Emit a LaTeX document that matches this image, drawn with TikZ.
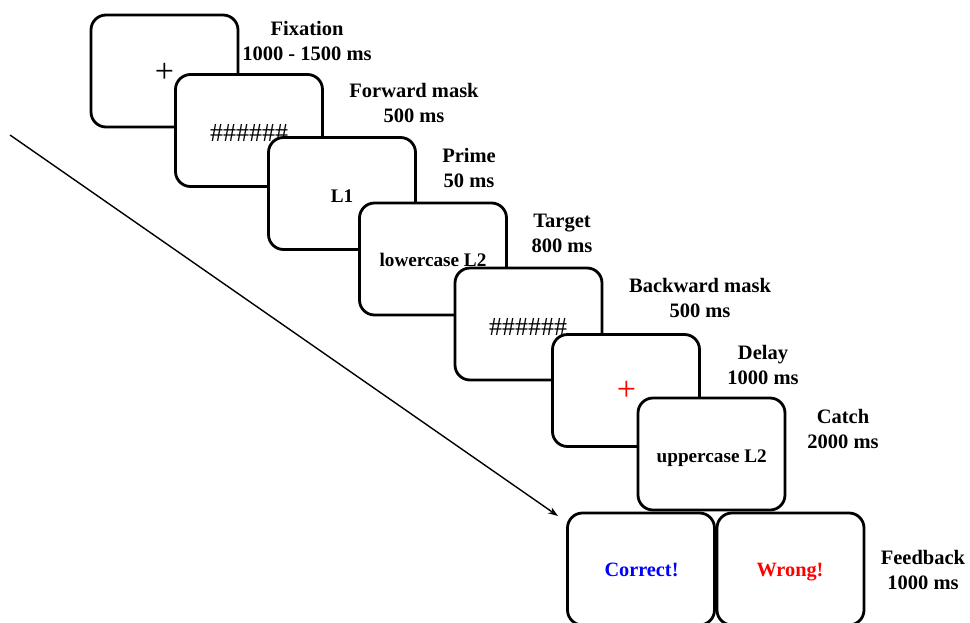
\documentclass[tikz,border=0pt]{standalone}
\usepackage{fontspec}
\setmainfont{Liberation Serif}
\usetikzlibrary{arrows.meta}
\begin{document}
\begin{tikzpicture}[x=1pt,y=-1pt,
  screen/.style={draw, line width=2.8pt, fill=white, rounded corners=15pt,
    minimum width=147pt, minimum height=112pt, inner sep=0pt},
  lab/.style={align=center, font=\fontsize{20.5}{25}\selectfont\bfseries, inner sep=0pt},
  txt/.style={anchor=base, inner sep=0pt},
  word/.style={txt, font=\fontsize{19.2}{22}\selectfont\bfseries},
  hash/.style={txt, font=\fontsize{26}{28}\selectfont},
  cross/.style={txt, font=\fontsize{34}{36}\selectfont},
  fb/.style={txt, font=\fontsize{20.3}{24}\selectfont\bfseries}]
\useasboundingbox (0,0) rectangle (970,622);
\clip (0,0) rectangle (970,622);
\fill[white] (0,0) rectangle (970,622);
% time arrow
\coordinate (as) at (10,135);
\coordinate (ae) at (558,516);
\draw[line width=1.4pt, -{Stealth[length=10pt,width=7pt]}] (as) -- (ae);
% screens
\node[screen] (b1) at (164.5,71) {};
\node[cross] (t1) at (164.5,82) {+};
\node[screen] (b2) at (249,130.5) {};
\node[hash] (t2) at (249,141) {\#\#\#\#\#\#};
\node[screen] (b3) at (342,193.5) {};
\node[word] (t3) at (342,202) {L1};
\node[screen] (b4) at (433,259) {};
\node[word] (t4) at (433,266) {lowercase L2};
\node[screen] (b5) at (528.5,324) {};
\node[hash] (t5) at (528,335) {\#\#\#\#\#\#};
\node[screen] (b6) at (626,390.5) {};
\node[cross, text=red] (t6) at (626.5,400) {+};
\node[screen] (b7) at (711.5,454) {};
\node[word] (t7) at (711.7,462.5) {uppercase L2};
\node[screen] (b8) at (641,569) {};
\node[fb, text=blue] (t8) at (641.5,576.5) {Correct!};
\node[screen] (b9) at (790.5,569) {};
\node[fb, text=red] (t9) at (790,576.5) {Wrong!};
% labels
\node[lab] (l1) at (307,40.5) {Fixation\\1000 - 1500 ms};
\node[lab] (l2) at (414,102.5) {Forward mask\\500 ms};
\node[lab] (l3) at (469,168) {Prime\\50 ms};
\node[lab] (l4) at (562,233) {Target\\800 ms};
\node[lab] (l5) at (700,297.5) {Backward mask\\500 ms};
\node[lab] (l6) at (763,364.5) {Delay\\1000 ms};
\node[lab] (l7) at (843,428.5) {Catch\\2000 ms};
\node[lab] (l8) at (923,569.5) {Feedback\\1000 ms};
\end{tikzpicture}
\end{document}
